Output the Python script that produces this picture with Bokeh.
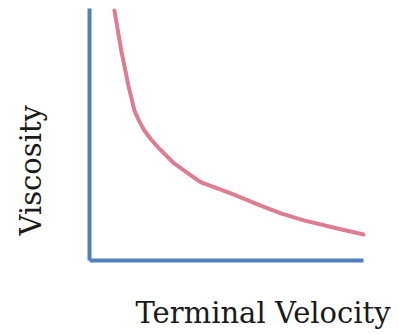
import math
from bokeh.plotting import figure
from bokeh.models import Range1d, Label, FixedTicker
from bokeh.embed import file_html
from bokeh.resources import INLINE

velocity = [9.1, 11.6, 14.2, 16.4, 18.2, 20.0, 22.5, 25.1, 30.9, 37.1, 40.7, 51.6, 62.5, 69.8, 78.2, 90.5, 100.0]
viscosity = [99.2, 83.3, 69.4, 59.5, 55.2, 51.6, 48.0, 44.8, 38.5, 33.7, 31.0, 26.6, 21.8, 18.7, 15.9, 12.7, 10.3]
x_title = "Terminal Velocity"
y_title = "Viscosity"

p = figure(width=398, height=334, output_backend="svg", toolbar_location=None,
           x_range=Range1d(-32.48, 112.77), y_range=Range1d(-29.37, 103.17),
           min_border_left=0, min_border_right=0, min_border_top=0, min_border_bottom=0)
p.outline_line_color = None
p.grid.visible = False
for ax in (p.xaxis[0], p.yaxis[0]):
    ax.fixed_location = 0
    ax.bounds = (0, 100)
    ax.ticker = FixedTicker(ticks=[])
    ax.axis_line_color = "#4F81BD"
    ax.axis_line_width = 4
    ax.major_tick_out = 0
    ax.major_tick_in = 0
    ax.major_label_standoff = 0
    ax.major_tick_line_color = None
    ax.minor_tick_line_color = None
    ax.major_label_text_font_size = "0px"

p.line(velocity, viscosity, line_color="#DE7C90", line_width=4, line_join="round", line_cap="round")

p.add_layout(Label(x=16.8, y=-21.0, text=x_title, text_align="left", text_baseline="alphabetic",
                   text_font="DejaVu Serif", text_font_size="29px", text_color="#1a1a1a"))
p.add_layout(Label(x=-21.5, y=9.9, text=y_title, angle=math.pi / 2, text_align="left",
                   text_baseline="alphabetic",
                   text_font="DejaVu Serif", text_font_size="29px", text_color="#1a1a1a"))

open("out.html", "w").write(file_html(p, INLINE))
